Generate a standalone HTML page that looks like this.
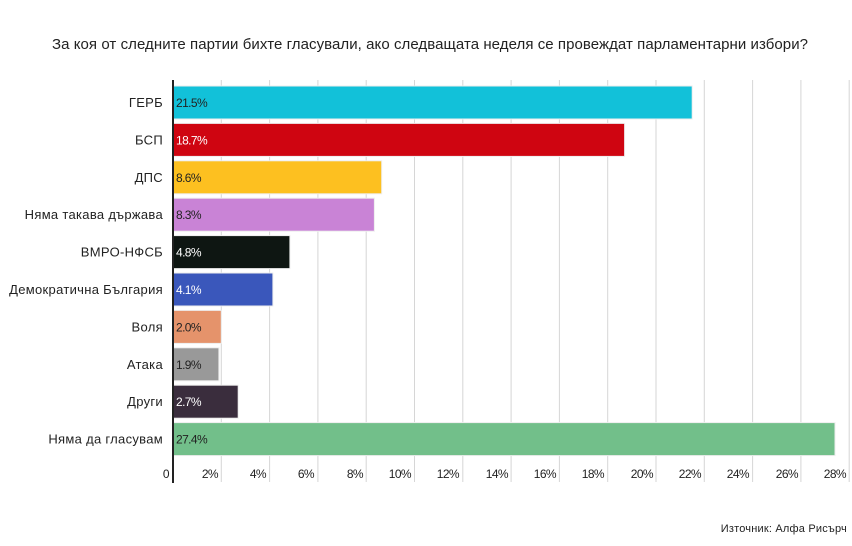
<!DOCTYPE html>
<html><head><meta charset="utf-8"><style>
body{margin:0;background:#fff;}
svg text{font-family:"Liberation Sans",sans-serif;}
</style></head><body>
<svg width="852" height="541" xmlns="http://www.w3.org/2000/svg">
<rect width="852" height="541" fill="#fff"/>
<text x="430" y="49" font-size="15" text-anchor="middle" fill="#222" textLength="756" lengthAdjust="spacing">За коя от следните партии бихте гласували, ако следващата неделя се провеждат парламентарни избори?</text>
<g stroke="#d6d6d6" stroke-width="1">
<line x1="221.3" y1="80" x2="221.3" y2="482"/><line x1="269.6" y1="80" x2="269.6" y2="482"/><line x1="317.9" y1="80" x2="317.9" y2="482"/><line x1="366.2" y1="80" x2="366.2" y2="482"/><line x1="414.5" y1="80" x2="414.5" y2="482"/><line x1="462.8" y1="80" x2="462.8" y2="482"/><line x1="511.1" y1="80" x2="511.1" y2="482"/><line x1="559.4" y1="80" x2="559.4" y2="482"/><line x1="607.7" y1="80" x2="607.7" y2="482"/><line x1="656" y1="80" x2="656" y2="482"/><line x1="704.3" y1="80" x2="704.3" y2="482"/><line x1="752.6" y1="80" x2="752.6" y2="482"/><line x1="800.9" y1="80" x2="800.9" y2="482"/><line x1="849.2" y1="80" x2="849.2" y2="482"/>
</g>
<g stroke="#eee" stroke-width="1">
<rect x="173" y="86" width="519.2" height="33" fill="#12c1d9"/>
<rect x="173" y="123.4" width="451.6" height="33" fill="#cf0511"/>
<rect x="173" y="160.8" width="208.7" height="33" fill="#fdc020"/>
<rect x="173" y="198.2" width="201.4" height="33" fill="#c983d6"/>
<rect x="173" y="235.6" width="116.9" height="33" fill="#0e1612"/>
<rect x="173" y="273" width="99.9" height="33" fill="#3a57bb"/>
<rect x="173" y="310.4" width="48.3" height="33" fill="#e5936b"/>
<rect x="173" y="347.8" width="45.9" height="33" fill="#999"/>
<rect x="173" y="385.2" width="65.2" height="33" fill="#3a2d3d"/>
<rect x="173" y="422.6" width="662" height="33" fill="#72bf8a"/>
</g>
<line x1="173" y1="80" x2="173" y2="483" stroke="#222" stroke-width="2"/>
<g font-size="12" letter-spacing="-0.6">
<text x="176" y="107" fill="#222">21.5%</text>
<text x="176" y="144.4" fill="#fff">18.7%</text>
<text x="176" y="181.8" fill="#222">8.6%</text>
<text x="176" y="219.2" fill="#222">8.3%</text>
<text x="176" y="256.6" fill="#fff">4.8%</text>
<text x="176" y="294" fill="#fff">4.1%</text>
<text x="176" y="331.4" fill="#222">2.0%</text>
<text x="176" y="368.8" fill="#222">1.9%</text>
<text x="176" y="406.2" fill="#fff">2.7%</text>
<text x="176" y="443.6" fill="#222">27.4%</text>
</g>
<g font-size="13" text-anchor="end" fill="#222" letter-spacing="0.3">
<text x="163" y="107">ГЕРБ</text>
<text x="163" y="144.4">БСП</text>
<text x="163" y="181.8">ДПС</text>
<text x="163" y="219.2">Няма такава държава</text>
<text x="163" y="256.6">ВМРО-НФСБ</text>
<text x="163" y="294">Демократична България</text>
<text x="163" y="331.4">Воля</text>
<text x="163" y="368.8">Атака</text>
<text x="163" y="406.2">Други</text>
<text x="163" y="443.6">Няма да гласувам</text>
</g>
<g font-size="12" text-anchor="end" fill="#222" letter-spacing="-0.6">
<text x="169" y="478">0</text>
<text x="218" y="478">2%</text><text x="266" y="478">4%</text><text x="314" y="478">6%</text><text x="363" y="478">8%</text><text x="411" y="478">10%</text><text x="459" y="478">12%</text><text x="508" y="478">14%</text><text x="556" y="478">16%</text><text x="604" y="478">18%</text><text x="653" y="478">20%</text><text x="701" y="478">22%</text><text x="749" y="478">24%</text><text x="798" y="478">26%</text><text x="846" y="478">28%</text>
</g>
<text x="847" y="532" font-size="11" text-anchor="end" fill="#222" letter-spacing="0.2">Източник: Алфа Рисърч</text>
</svg>
</body></html>
